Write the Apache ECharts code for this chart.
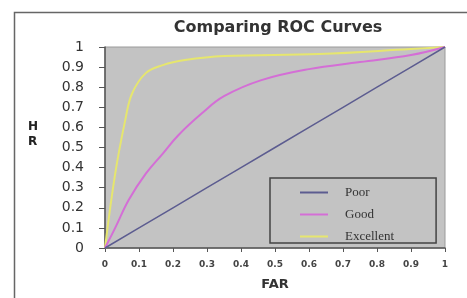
<!DOCTYPE html>
<html>
<head>
<meta charset="utf-8">
<script src="https://cdn.jsdelivr.net/npm/echarts@6/dist/echarts.min.js"></script>
<style>
  html, body { margin: 0; padding: 0; background: #fff; }
  #chart { width: 467px; height: 298px; }
</style>
</head>
<body>
<div id="chart"></div>
<script>
  // ROC curves: [FAR, HR] pairs
  const poor = [[0, 0], [0.1, 0.1], [0.2, 0.2], [0.3, 0.3], [0.4, 0.4], [0.5, 0.5],
    [0.6, 0.6], [0.7, 0.7], [0.8, 0.8], [0.9, 0.9], [1, 1]];
  const good = [[0, 0], [0.03, 0.1], [0.07, 0.24], [0.12, 0.37], [0.17, 0.47], [0.215, 0.56],
    [0.285, 0.67], [0.35, 0.755], [0.46, 0.835], [0.6, 0.89], [0.75, 0.925], [0.9, 0.96], [1, 1]];
  const excellent = [[0, 0], [0.03, 0.37], [0.06, 0.64], [0.08, 0.77], [0.12, 0.87], [0.17, 0.91],
    [0.235, 0.935], [0.35, 0.955], [0.63, 0.965], [0.9, 0.99], [1, 1]];

  const names = ['Poor', 'Good', 'Excellent'];
  const colors = ['#5c5c90', '#d46ed6', '#e6e66e'];
  const widths = [1.5, 2, 2];
  const smooths = [false, 0.4, 0.4];

  const axisFont = 'DejaVu Sans';
  const chart = echarts.init(document.getElementById('chart'), null, { renderer: 'canvas' });

  chart.setOption({
    backgroundColor: '#fff',
    animation: false,
    title: {
      text: 'Comparing ROC Curves', left: 273, top: 15, textAlign: 'center',
      textStyle: { fontFamily: axisFont, fontWeight: 'bold', fontSize: 16, color: '#333' }
    },
    grid: {
      left: 105, right: 22, top: 47, bottom: 50,
      show: true, backgroundColor: '#c3c3c3', borderColor: '#9a9a9a', borderWidth: 1
    },
    legend: {
      orient: 'vertical', left: 270, top: 178,
      data: names, icon: 'rect', itemWidth: 28, itemHeight: 2, itemGap: 9,
      padding: [8, 42, 0, 30],
      borderColor: '#444', borderWidth: 1.5, backgroundColor: '#c3c3c3',
      textStyle: { fontFamily: 'Liberation Serif', fontSize: 13, color: '#333', padding: [0, 0, 0, 12] }
    },
    xAxis: {
      type: 'value', min: 0, max: 1, interval: 0.1,
      name: 'FAR', nameLocation: 'middle', nameGap: 30,
      nameTextStyle: { fontFamily: axisFont, fontWeight: 'bold', fontSize: 13, color: '#333' },
      axisLine: { lineStyle: { color: '#555', width: 1.5 } },
      axisTick: { length: 4, lineStyle: { color: '#555' } },
      splitLine: { show: false },
      axisLabel: { margin: 12, fontFamily: axisFont, fontWeight: 'bold', fontSize: 9, color: '#444',
        formatter: v => String(+v.toFixed(1)) }
    },
    yAxis: {
      type: 'value', min: 0, max: 1, interval: 0.1,
      axisLine: { show: true, lineStyle: { color: '#555', width: 1.5 } },
      axisTick: { show: true, length: 6, lineStyle: { color: '#555' } },
      splitLine: { show: false },
      axisLabel: { margin: 21, fontFamily: axisFont, fontSize: 14, color: '#333',
        formatter: v => String(+v.toFixed(1)) }
    },
    graphic: [
      { type: 'rect', left: 12, top: 10, silent: true, z: -1,
        shape: { width: 470, height: 300 },
        style: { fill: 'none', stroke: '#666', lineWidth: 1.5 } },
      { type: 'text', left: 28, top: 121, style: { text: 'H', font: 'bold 12px "DejaVu Sans"', fill: '#222' } },
      { type: 'text', left: 28, top: 136, style: { text: 'R', font: 'bold 12px "DejaVu Sans"', fill: '#222' } }
    ],
    series: [poor, good, excellent].map((d, i) => ({
      name: names[i], type: 'line', data: d, smooth: smooths[i], symbol: 'none',
      color: colors[i], lineStyle: { color: colors[i], width: widths[i] }, z: 3 - i
    }))
  });
</script>
</body>
</html>
